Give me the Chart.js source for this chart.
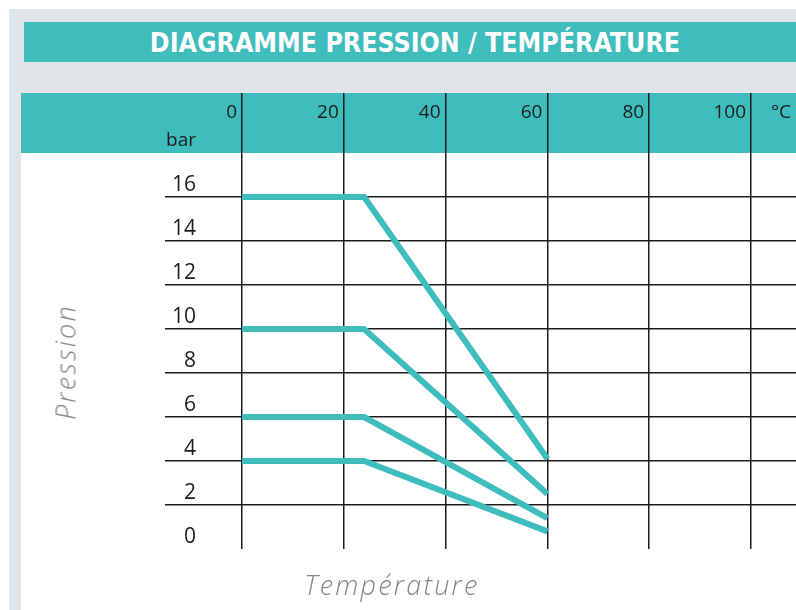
<!DOCTYPE html>
<html>
<head>
<meta charset="utf-8">
<script src="https://cdn.jsdelivr.net/npm/chart.js@4"></script>
<style>
  body { margin: 0; width: 796px; height: 610px; overflow: hidden; background: #fff; position: relative; }
  #panel { position: absolute; left: 9px; top: 9px; right: 0; bottom: 0; background: #e1e4e8; }
  #title { position: absolute; left: 24px; top: 22px; width: 772px; height: 40px; box-sizing: border-box; padding-left: 10px;
           background: #3fbcbc; color: #fff; text-align: center; line-height: 40px; overflow: hidden;
           font: bold 26.5px 'Liberation Sans Narrow', 'DejaVu Sans Condensed', sans-serif; white-space: nowrap; }
  #title span { position: relative; top: 5px; }
  #head { position: absolute; left: 21px; top: 93px; width: 775px; height: 60px; background: #3fbcbc; }
  #sheet { position: absolute; left: 21px; top: 153px; width: 775px; height: 457px; background: #fff; }
  #wrap { position: absolute; left: 21px; top: 93px; width: 775px; height: 517px; }
  .axis-name { position: absolute; color: #858585; font: italic 300 27px 'Open Sans', sans-serif; letter-spacing: 2.2px; white-space: nowrap; }
  #yname { left: 65px; top: 362px; transform: translate(-50%, -50%) rotate(-90deg); }
  #xname { left: 392px; top: 584px; transform: translate(-50%, -50%); }
</style>
</head>
<body>
<div id="panel"></div>
<div id="title"><span>DIAGRAMME PRESSION / TEMPÉRATURE</span></div>
<div id="head"></div>
<div id="sheet"></div>
<div id="wrap"><canvas id="chart" width="775" height="517"></canvas></div>
<div class="axis-name" id="yname">Pression</div>
<div class="axis-name" id="xname">Température</div>
<script>
// temperature (°C) at the start, the bend and the end of each curve
const temps = [0, 24, 60];
// pressure (bar) for each curve at those temperatures
const curve16 = [16, 16, 4.1];
const curve10 = [10, 10, 2.5];
const curve6 = [6, 6, 1.4];
const curve4 = [4, 4, 0.8];

const xTickValues = [0, 20, 40, 60, 80, 100];
const yTickValues = [0, 2, 4, 6, 8, 10, 12, 14, 16];
const xUnit = '°C';
const yUnit = 'bar';

const teal = '#3fbcbc';
const ink = '#1c1c1c';

function toPoints(values) {
    return temps.map((t, i) => ({ x: t, y: values[i] }));
}

let datasets = [curve16, curve10, curve6, curve4].map(function(values) {
    return {
        data: toPoints(values),
        borderColor: teal,
        borderWidth: 6,
        pointRadius: 0,
        tension: 0,
        borderCapStyle: 'butt',
        borderJoinStyle: 'miter'
    };
});

new Chart(document.getElementById('chart'), {
    type: 'line',
    data: { datasets: datasets },
    options: {
        responsive: false,
        animation: false,
        events: [],
        layout: { padding: { bottom: 61 } },
        plugins: { legend: { display: false }, tooltip: { enabled: false } },
        scales: {
            x: {
                type: 'linear',
                position: 'top',
                min: 0,
                max: 108.84,
                afterBuildTicks: function(axis) {
                    axis.ticks = xTickValues.concat([axis.max]).map(v => ({ value: v }));
                },
                afterFit: function(axis) { axis.height = 60; },
                border: { display: false },
                grid: {
                    color: c => (c.index < xTickValues.length ? ink : 'transparent'),
                    lineWidth: 1.5,
                    drawTicks: true,
                    tickLength: 60
                },
                ticks: {
                    align: 'end',
                    labelOffset: -5,
                    padding: -31,
                    color: ink,
                    font: { family: 'Open Sans', size: 19 },
                    callback: (v, i) => (i < xTickValues.length ? v : xUnit)
                }
            },
            y: {
                type: 'linear',
                position: 'left',
                min: 0,
                max: 18,
                afterBuildTicks: function(axis) {
                    axis.ticks = yTickValues.concat([axis.max]).map(v => ({ value: v }));
                },
                afterFit: function(axis) { axis.width = 221; },
                border: { display: false },
                grid: {
                    color: c => (c.tick && c.index > 0 && c.index < yTickValues.length ? ink : 'transparent'),
                    lineWidth: 1.5,
                    drawTicks: true,
                    tickLength: 77
                },
                ticks: {
                    labelOffset: -12,
                    padding: -31,
                    color: ink,
                    font: c => ({ family: 'Open Sans', size: c.index < yTickValues.length ? 21 : 19 }),
                    callback: (v, i) => (i < yTickValues.length ? v : yUnit)
                }
            }
        }
    }
});
</script>
</body>
</html>
